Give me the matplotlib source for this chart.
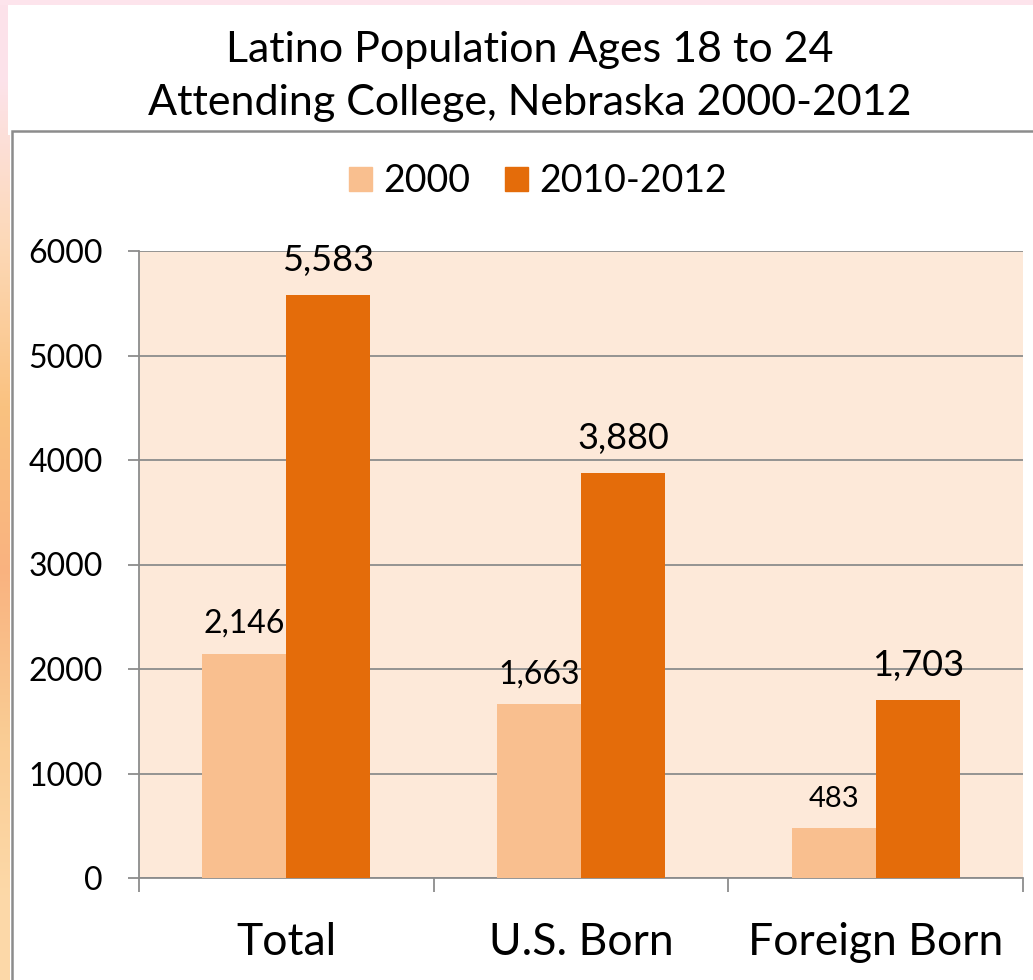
import numpy as np
import matplotlib
matplotlib.use("Agg")
import matplotlib.pyplot as plt
from matplotlib.patches import Rectangle

# data
categories = ["Total", "U.S. Born", "Foreign Born"]
series_names = ["2000", "2010-2012"]
values_2000 = [2146, 1663, 483]
values_2010 = [5583, 3880, 1703]
yticks = [0, 1000, 2000, 3000, 4000, 5000, 6000]

light = "#F9BF8F"
dark = "#E46C0A"
plot_bg = "#FDE9D9"
grid_col = "#8C8C8C"

plt.rcParams['font.family'] = ['Lato', 'DejaVu Sans']

W, H = 1033, 980
fig = plt.figure(figsize=(W / 100, H / 100), dpi=100)


def px(x0, y0, x1, y1):
    # pixel box (top-left origin) -> figure fraction rect
    return [x0 / W, 1 - y1 / H, (x1 - x0) / W, (y1 - y0) / H]


# background decorations (slide edge)
bg = fig.add_axes([0, 0, 1, 1])
bg.set_xlim(0, W)
bg.set_ylim(H, 0)
bg.axis("off")
bg.add_patch(Rectangle((0, 0), W, 5, color="#FDE4EC", lw=0))
grad = np.array([[0.99, 0.89, 0.92], [0.99, 0.85, 0.72], [0.98, 0.76, 0.50],
                 [0.98, 0.70, 0.50], [0.98, 0.80, 0.58], [0.99, 0.85, 0.66]])
bg.imshow(grad[:, None, :], extent=(0, 10, H, 0), aspect="auto", interpolation="bilinear")
bg.add_patch(Rectangle((8, 5), W, 130, color="white", lw=0))
bg.add_patch(Rectangle((12, 131), W, H, facecolor="white", edgecolor="#8C8C8C", lw=1.8))

# title
fig.text(530 / W, 1 - 50 / H, "Latino Population Ages 18 to 24", ha="center", va="center", fontsize=31)
fig.text(530 / W, 1 - 103 / H, "Attending College, Nebraska 2000-2012", ha="center", va="center", fontsize=31)

ax = fig.add_axes(px(139, 251, 1023, 878))
ax.set_facecolor(plot_bg)

x = np.arange(len(categories))
bw = 0.285
b1 = ax.bar(x - bw / 2, values_2000, bw, color=light, label=series_names[0], zorder=3)
b2 = ax.bar(x + bw / 2, values_2010, bw, color=dark, label=series_names[1], zorder=3)

label_sizes_2000 = [23, 23, 21]
for rect, v, fs in zip(b1, values_2000, label_sizes_2000):
    ax.annotate(f"{v:,}", (rect.get_x() + rect.get_width() / 2, v), xytext=(0, 15),
                textcoords="offset points", ha="center", va="baseline", fontsize=fs, zorder=4)
for rect, v in zip(b2, values_2010):
    ax.annotate(f"{v:,}", (rect.get_x() + rect.get_width() / 2, v), xytext=(0, 17),
                textcoords="offset points", ha="center", va="baseline", fontsize=26, zorder=4)

ax.set_xlim(-0.5, 2.5)
ax.set_ylim(0, 6000)
ax.set_yticks(yticks)
ax.set_yticklabels([str(t) for t in yticks], fontsize=23)
ax.yaxis.grid(True, color=grid_col, lw=1.3, zorder=1)
ax.set_axisbelow(True)

ax.set_xticks([-0.5, 0.5, 1.5, 2.5])
ax.set_xticklabels([])
ax.set_xticks(x, minor=True)
ax.set_xticklabels(categories, minor=True, fontsize=32)
ax.tick_params(axis="x", which="minor", length=0, pad=32)
ax.tick_params(axis="x", which="major", length=10, width=1.3, color=grid_col, direction="out")
ax.tick_params(axis="y", length=8, width=1.3, color=grid_col, pad=18)

for s in ["top", "right"]:
    ax.spines[s].set_visible(False)
for s in ["left", "bottom"]:
    ax.spines[s].set_color(grid_col)
    ax.spines[s].set_linewidth(1.3)

handles = [Rectangle((0, 0), 1, 1, color=light), Rectangle((0, 0), 1, 1, color=dark)]
fig.legend(handles, series_names, loc="center", bbox_to_anchor=(538 / W, 1 - 181 / H), ncol=2,
           frameon=False, fontsize=27, handlelength=0.6, handleheight=0.6, handletextpad=0.3,
           columnspacing=0.95)

fig.savefig("out.png", dpi=100)
